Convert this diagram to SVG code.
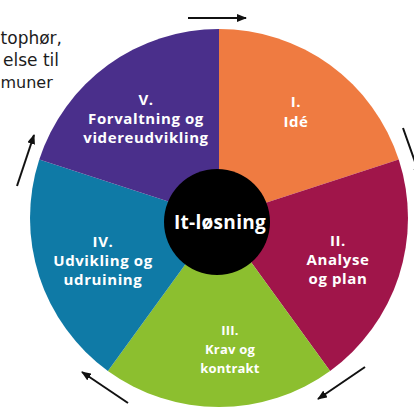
<svg xmlns="http://www.w3.org/2000/svg" width="414" height="410" viewBox="0 0 414 410">
<style>
.lbl{font-family:"Open Sans","DejaVu Sans",sans-serif;font-weight:bold;fill:#fff;text-anchor:middle;font-size:15px;letter-spacing:0.6px}
.sm{font-size:13px;letter-spacing:0.2px}
.side{font-family:"DejaVu Sans",sans-serif;fill:#1c1c1c;font-size:17px;text-anchor:end}
.arr{stroke:#111;stroke-width:2;fill:none;marker-end:url(#ah)}
</style>
<defs>
<marker id="ah" viewBox="0 0 10 8" refX="9" refY="4" markerWidth="10" markerHeight="8" markerUnits="userSpaceOnUse" orient="auto">
<path d="M0,0 L10,4 L0,8 Z" fill="#111"/>
</marker>
</defs>
<rect width="414" height="410" fill="#fff"/>
<g id="side-text">
<text class="side" x="62" y="44">tophør,</text>
<text class="side" x="59" y="66">else til</text>
<text class="side" x="0.5" y="88" style="text-anchor:start;font-size:16px">muner</text>
</g>
<g id="seg-1">
<path d="M219,218 L219,29 A189,189 0 0 1 398.75,159.6 Z" fill="#ef7b41"/>
<text class="lbl" x="296" y="107">I.</text>
<text class="lbl" x="296" y="127">Idé</text>
</g>
<g id="seg-2">
<path d="M219,218 L398.75,159.6 A189,189 0 0 1 330.09,370.9 Z" fill="#a0154a"/>
<text class="lbl" x="338" y="246">II.</text>
<text class="lbl" x="338" y="265">Analyse</text>
<text class="lbl" x="338" y="284">og plan</text>
</g>
<g id="seg-3">
<path d="M219,218 L330.09,370.9 A189,189 0 0 1 107.91,370.9 Z" fill="#8cbf2f"/>
<text class="lbl sm" x="230" y="335">III.</text>
<text class="lbl sm" x="230" y="354">Krav og</text>
<text class="lbl sm" x="230" y="373">kontrakt</text>
</g>
<g id="seg-4">
<path d="M219,218 L107.91,370.9 A189,189 0 0 1 39.25,159.6 Z" fill="#0f7aa6"/>
<text class="lbl" x="103" y="247">IV.</text>
<text class="lbl" x="103" y="266">Udvikling og</text>
<text class="lbl" x="103" y="285">udruining</text>
</g>
<g id="seg-5">
<path d="M219,218 L39.25,159.6 A189,189 0 0 1 219,29 Z" fill="#4a2f8b"/>
<text class="lbl" x="146" y="105">V.</text>
<text class="lbl" x="146" y="124">Forvaltning og</text>
<text class="lbl" x="146" y="143">videreudvikling</text>
</g>
<g id="center">
<circle cx="217" cy="222" r="53" fill="#000"/>
<text class="lbl" x="220" y="229" style="font-size:19px;letter-spacing:0.3px">It-løsning</text>
</g>
<g id="connectors">
<line class="arr" x1="188" y1="18" x2="246" y2="18"/>
<line class="arr" x1="403" y1="128" x2="420" y2="176"/>
<line class="arr" x1="17" y1="186" x2="34" y2="135"/>
<line class="arr" x1="128" y1="403" x2="82" y2="372"/>
<line class="arr" x1="365" y1="367" x2="318" y2="399"/>
</g>
</svg>
